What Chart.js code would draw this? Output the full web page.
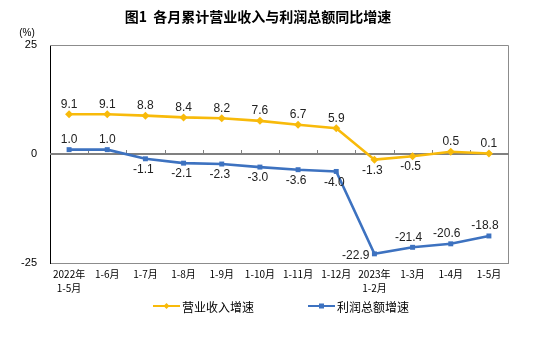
<!DOCTYPE html>
<html>
<head>
<meta charset="utf-8">
<script src="https://cdn.jsdelivr.net/npm/chart.js@4/dist/chart.umd.min.js"></script>
<style>
  html, body { margin: 0; padding: 0; background: #fff; }
  #wrap { width: 550px; height: 339px; position: relative; }
</style>
</head>
<body>
<div id="wrap"><canvas id="c" width="550" height="339"></canvas></div>
<script>
// Period labels (two-line where the year changes)
const categories = [
  ['2022年', '1-5月'], '1-6月', '1-7月', '1-8月', '1-9月', '1-10月',
  '1-11月', '1-12月', ['2023年', '1-2月'], '1-3月', '1-4月', '1-5月'
];
// Cumulative year-on-year growth (%)
const revenueGrowth = [9.1, 9.1, 8.8, 8.4, 8.2, 7.6, 6.7, 5.9, -1.3, -0.5, 0.5, 0.1];
const profitGrowth  = [1.0, 1.0, -1.1, -2.1, -2.3, -3.0, -3.6, -4.0, -22.9, -21.4, -20.6, -18.8];
const yTicks = [-25, 0, 25];

const seriesNames = ['营业收入增速', '利润总额增速'];
const titleText = '图1  各月累计营业收入与利润总额同比增速';

// Where each value label sits relative to its point
const revenueLabelPos = ['up','up','up','up','up','up','up','up','down','down','up','up'];
const profitLabelPos  = ['up','up','down','down','down','down','down','down','left','up','up','up'];

const YELLOW = '#F8BA0A';
const BLUE = '#3D72C0';

const decorPlugin = {
  id: 'decor',
  beforeDatasetsDraw(chart) {
    const { ctx, chartArea: a, scales: { x, y } } = chart;
    ctx.save();
    // top and right frame
    ctx.strokeStyle = '#8c8c8c';
    ctx.lineWidth = 1;
    ctx.beginPath();
    ctx.moveTo(a.left, a.top + 0.5);
    ctx.lineTo(a.right + 0.5, a.top + 0.5);
    ctx.lineTo(a.right + 0.5, a.bottom);
    ctx.stroke();
    // zero line with category separators
    const y0 = Math.round(y.getPixelForValue(0));
    ctx.strokeStyle = '#808080';
    ctx.lineWidth = 2;
    ctx.beginPath();
    ctx.moveTo(a.left, y0);
    ctx.lineTo(a.right + 1, y0);
    ctx.stroke();
    ctx.lineWidth = 1;
    const n = categories.length;
    const step = (a.right - a.left) / n;
    ctx.beginPath();
    for (let i = 1; i < n; i++) {
      const px = Math.round(a.left + i * step) + 0.5;
      ctx.moveTo(px, y0);
      ctx.lineTo(px, y0 - 4);
    }
    ctx.stroke();
    ctx.restore();
  },
  afterDraw(chart) {
    const { ctx } = chart;
    ctx.save();
    // title
    ctx.fillStyle = '#000';
    ctx.font = 'bold 14px "Noto Sans CJK SC"';
    ctx.textAlign = 'center';
    ctx.textBaseline = 'middle';
    ctx.fillText(titleText, 258, 17);
    // unit
    ctx.font = '10px "Liberation Sans Narrow", "Liberation Sans"';
    ctx.fillText('(%)', 27, 33);

    // value labels
    ctx.font = '12px "Liberation Sans", Arial';
    ctx.fillStyle = '#222';
    const drawLabels = (di, data, pos) => {
      const meta = chart.getDatasetMeta(di);
      meta.data.forEach((pt, i) => {
        const txt = data[i].toFixed(1);
        let tx = pt.x, ty = pt.y;
        ctx.textAlign = 'center';
        if (pos[i] === 'up') { ty -= 10; if (data[i] < 0) tx -= 4; }
        else if (pos[i] === 'down') { ty += 11; tx -= 2; }
        else if (pos[i] === 'left') { ctx.textAlign = 'right'; tx -= 5; ty += 2; }
        ctx.fillText(txt, tx, ty);
      });
    };
    drawLabels(0, revenueGrowth, revenueLabelPos);
    drawLabels(1, profitGrowth, profitLabelPos);

    // legend
    const ly = 306;
    const items = [
      { x: 153, color: YELLOW, name: seriesNames[0], shape: 'diamond' },
      { x: 308, color: BLUE, name: seriesNames[1], shape: 'square' }
    ];
    items.forEach(it => {
      ctx.strokeStyle = it.color;
      ctx.fillStyle = it.color;
      ctx.lineWidth = 2;
      ctx.beginPath();
      ctx.moveTo(it.x, ly);
      ctx.lineTo(it.x + 27, ly);
      ctx.stroke();
      const cx = it.x + 13.5;
      ctx.beginPath();
      if (it.shape === 'diamond') {
        ctx.moveTo(cx, ly - 3); ctx.lineTo(cx + 3, ly); ctx.lineTo(cx, ly + 3); ctx.lineTo(cx - 3, ly);
        ctx.closePath(); ctx.fill();
      } else {
        ctx.fillRect(cx - 2.5, ly - 2.5, 5, 5);
      }
      ctx.fillStyle = '#000';
      ctx.font = '12px "Noto Sans CJK SC"';
      ctx.textAlign = 'left';
      ctx.textBaseline = 'middle';
      ctx.fillText(it.name, it.x + 29, ly + 1);
    });
    ctx.restore();
  }
};

new Chart(document.getElementById('c'), {
  type: 'line',
  data: {
    labels: categories,
    datasets: [
      {
        label: seriesNames[0],
        data: revenueGrowth,
        borderColor: YELLOW,
        backgroundColor: YELLOW,
        borderWidth: 2.6,
        pointStyle: 'rectRot',
        pointRadius: 4,
        pointBorderWidth: 0,
        tension: 0
      },
      {
        label: seriesNames[1],
        data: profitGrowth,
        borderColor: BLUE,
        backgroundColor: BLUE,
        borderWidth: 2.6,
        pointStyle: 'rect',
        pointRadius: 3.5,
        pointBorderWidth: 0,
        tension: 0
      }
    ]
  },
  options: {
    responsive: false,
    animation: false,
    events: [],
    layout: { padding: { top: 45, right: 42, bottom: 44, left: 0 } },
    plugins: { legend: { display: false }, title: { display: false }, tooltip: { enabled: false } },
    scales: {
      x: {
        offset: true,
        grid: { display: false, drawTicks: false },
        border: { display: true, color: '#8c8c8c', width: 1 },
        ticks: {
          color: '#000',
          font: { family: '"Noto Sans CJK SC"', size: 10, lineHeight: 1.4 },
          padding: 4,
          maxRotation: 0,
          autoSkip: false
        },
        afterFit(s) { s.height = 32; }
      },
      y: {
        min: -25,
        max: 25,
        afterBuildTicks(s) { s.ticks = yTicks.map(v => ({ value: v })); },
        grid: { display: false, drawTicks: false },
        border: { display: true, color: '#000', width: 1 },
        ticks: {
          color: '#000',
          font: { family: '"Liberation Sans Narrow", "Liberation Sans"', size: 11 },
          padding: 13
        },
        afterFit(s) { s.width = 50; }
      }
    }
  },
  plugins: [decorPlugin]
});
</script>
</body>
</html>
